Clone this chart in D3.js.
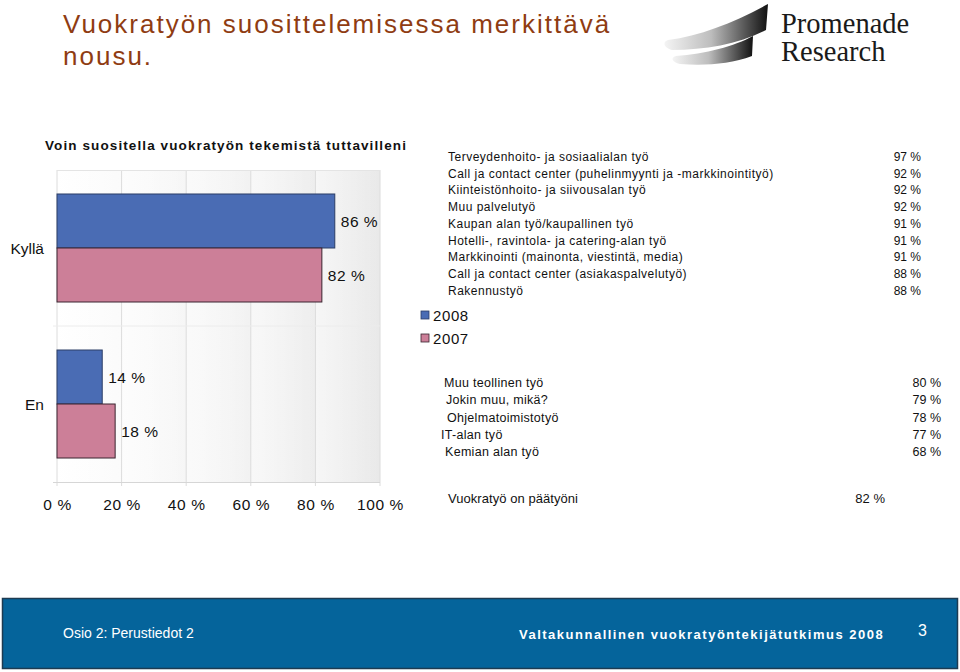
<!DOCTYPE html>
<html>
<head>
<meta charset="utf-8">
<script src="https://cdn.jsdelivr.net/npm/d3@7"></script>
<style>
	body { margin: 0; background: #fff; }
	svg { display: block; font-family: Arial, "Liberation Sans", sans-serif; }
</style>
</head>
<body>
<div id="chart"></div>
<script>
	// data
	var categories = ["Kyllä", "En"];
	var years = ["2008", "2007"];
	var values2008 = [86, 14];
	var values2007 = [82, 18];
	var xTicks = [0, 20, 40, 60, 80, 100];

	var topJobs = ["Terveydenhoito- ja sosiaalialan työ", "Call ja contact center (puhelinmyynti ja -markkinointityö)",
		"Kiinteistönhoito- ja siivousalan työ", "Muu palvelutyö", "Kaupan alan työ/kaupallinen työ",
		"Hotelli-, ravintola- ja catering-alan työ", "Markkinointi (mainonta, viestintä, media)",
		"Call ja contact center (asiakaspalvelutyö)", "Rakennustyö"];
	var topValues = [97, 92, 92, 92, 91, 91, 91, 88, 88];
	var lowJobs = ["Muu teollinen työ", "Jokin muu, mikä?", "Ohjelmatoimistotyö", "IT-alan työ", "Kemian alan työ"];
	var lowValues = [80, 79, 78, 77, 68];
	var mainJobLabel = "Vuokratyö on päätyöni";
	var mainJobValue = 82;

	var colors = { "2008": "#4a6cb4", "2007": "#cc7f98" };
	var strokes = { "2008": "#2c3e66", "2007": "#3a2530" };

	var svg = d3.select("#chart").append("svg")
		.attr("width", 960)
		.attr("height", 672);

	var defs = svg.append("defs");
	var bg = defs.append("linearGradient").attr("id", "plotbg");
	bg.append("stop").attr("offset", "0%").attr("stop-color", "#ffffff");
	bg.append("stop").attr("offset", "100%").attr("stop-color", "#e9e9e9");

	var colbg = defs.append("linearGradient").attr("id", "colbg");
	colbg.append("stop").attr("offset", "0%").attr("stop-color", "#ffffff").attr("stop-opacity", 0.5);
	colbg.append("stop").attr("offset", "100%").attr("stop-color", "#ffffff").attr("stop-opacity", 0);

	var swoosh = defs.append("linearGradient").attr("id", "swoosh");
	swoosh.append("stop").attr("offset", "0%").attr("stop-color", "#f4f4f4");
	swoosh.append("stop").attr("offset", "45%").attr("stop-color", "#bdbdbd");
	swoosh.append("stop").attr("offset", "100%").attr("stop-color", "#111111");

	// slide title
	var title = svg.append("text")
		.attr("x", 63)
		.attr("fill", "#8f3c12")
		.attr("font-size", "26px")
		.attr("letter-spacing", "2px");
	title.append("tspan").attr("x", 63).attr("y", 33).text("Vuokratyön suosittelemisessa merkittävä");
	title.append("tspan").attr("x", 63).attr("y", 65).text("nousu.");

	// logo
	var logo = svg.append("g");
	logo.append("path")
		.attr("d", "M668,40 C700,36 735,22 768,4 L766,30 C740,44 705,50 672,50 C664,48 662,42 668,40 Z")
		.attr("fill", "url(#swoosh)");
	logo.append("path")
		.attr("d", "M676,56 C705,54 735,46 753,36 L752,56 C730,64 705,66 680,64 C672,62 670,58 676,56 Z")
		.attr("fill", "url(#swoosh)");
	logo.append("text")
		.attr("x", 781).attr("y", 33)
		.attr("font-family", "'Liberation Serif', 'DejaVu Serif', serif")
		.attr("font-size", "28.5px")
		.attr("fill", "#1a1a1a")
		.text("Promenade");
	logo.append("text")
		.attr("x", 781).attr("y", 61)
		.attr("font-family", "'Liberation Serif', 'DejaVu Serif', serif")
		.attr("font-size", "28.5px")
		.attr("fill", "#1a1a1a")
		.text("Research");

	// chart
	var plot = { left: 57, right: 380, top: 170, bottom: 482 };

	var x = d3.scaleLinear().domain([0, 100]).range([plot.left, plot.right]);
	var y = d3.scaleBand().domain(categories).range([plot.top, plot.bottom])
		.paddingInner(0.3077).paddingOuter(0.1538);
	var ySub = d3.scaleBand().domain(years).range([0, y.bandwidth()]);

	svg.append("text")
		.attr("x", 226).attr("y", 150)
		.attr("text-anchor", "middle")
		.attr("font-size", "13.5px")
		.attr("font-weight", "bold")
		.attr("letter-spacing", "1.1px")
		.attr("fill", "#111")
		.text("Voin suositella vuokratyön tekemistä tuttavilleni");

	svg.append("rect")
		.attr("x", plot.left).attr("y", plot.top)
		.attr("width", plot.right - plot.left).attr("height", plot.bottom - plot.top)
		.attr("fill", "url(#plotbg)");

	// column shading between gridlines
	svg.selectAll(".col")
		.data(xTicks.slice(0, -1))
		.enter().append("rect")
		.attr("class", "col")
		.attr("x", function(d){ return x(d); })
		.attr("y", plot.top)
		.attr("width", x(20) - x(0))
		.attr("height", plot.bottom - plot.top)
		.attr("fill", "url(#colbg)");

	svg.selectAll(".grid")
		.data(xTicks)
		.enter().append("line")
		.attr("class", "grid")
		.attr("x1", function(d){ return x(d); })
		.attr("x2", function(d){ return x(d); })
		.attr("y1", plot.top)
		.attr("y2", plot.bottom + 4)
		.attr("stroke", "#dcdcdc")
		.attr("stroke-width", 1);

	svg.append("line")
		.attr("x1", plot.left).attr("x2", plot.right)
		.attr("y1", plot.top + 0.5).attr("y2", plot.top + 0.5)
		.attr("stroke", "#e4e4e4");
	svg.append("line")
		.attr("x1", plot.left - 4).attr("x2", plot.right)
		.attr("y1", plot.bottom + 0.5).attr("y2", plot.bottom + 0.5)
		.attr("stroke", "#d6d6d6");
	svg.append("line")
		.attr("x1", plot.left - 4).attr("x2", plot.right)
		.attr("y1", y.step() + plot.top).attr("y2", y.step() + plot.top)
		.attr("stroke", "#ececec");

	var rows = categories.map(function(c, i){
		return { cat: c, vals: [ { year: "2008", v: values2008[i] }, { year: "2007", v: values2007[i] } ] };
	});

	var groups = svg.selectAll(".grp")
		.data(rows)
		.enter().append("g")
		.attr("class", "grp")
		.attr("transform", function(d){ return "translate(0," + y(d.cat) + ")"; });

	groups.selectAll("rect")
		.data(function(d){ return d.vals; })
		.enter().append("rect")
		.attr("x", x(0))
		.attr("y", function(d){ return ySub(d.year); })
		.attr("width", function(d){ return x(d.v) - x(0); })
		.attr("height", ySub.bandwidth())
		.attr("fill", function(d){ return colors[d.year]; })
		.attr("stroke", function(d){ return strokes[d.year]; })
		.attr("stroke-width", 1);

	groups.selectAll(".val")
		.data(function(d){ return d.vals; })
		.enter().append("text")
		.attr("class", "val")
		.attr("x", function(d){ return x(d.v) + 6; })
		.attr("y", function(d){ return ySub(d.year) + ySub.bandwidth() / 2 + 6; })
		.attr("font-size", "15.5px")
		.attr("letter-spacing", "0.5px")
		.attr("fill", "#111")
		.text(function(d){ return d.v + " %"; });

	svg.selectAll(".cat")
		.data(categories)
		.enter().append("text")
		.attr("class", "cat")
		.attr("x", 44)
		.attr("y", function(d){ return y(d) + y.bandwidth() / 2 + 6; })
		.attr("text-anchor", "end")
		.attr("font-size", "15.5px")
		.attr("fill", "#111")
		.text(function(d){ return d; });

	var xAxis = svg.append("g")
		.attr("transform", "translate(0," + (plot.bottom + 14) + ")")
		.call(d3.axisBottom(x).tickValues(xTicks).tickSize(0).tickFormat(function(d){ return d + " %"; }));
	xAxis.select(".domain").remove();
	xAxis.selectAll("text")
		.attr("font-size", "15.5px")
		.attr("letter-spacing", "0.6px")
		.attr("font-family", "Arial, 'Liberation Sans', sans-serif")
		.attr("fill", "#111");

	// legend
	var legend = svg.selectAll(".leg")
		.data(years)
		.enter().append("g")
		.attr("class", "leg")
		.attr("transform", function(d, i){ return "translate(421," + (311 + i * 23) + ")"; });
	legend.append("rect")
		.attr("width", 8).attr("height", 8)
		.attr("fill", function(d){ return colors[d]; })
		.attr("stroke", function(d){ return strokes[d]; })
		.attr("stroke-width", 0.8);
	legend.append("text")
		.attr("x", 12).attr("y", 10)
		.attr("font-size", "15px")
		.attr("letter-spacing", "0.6px")
		.attr("fill", "#111")
		.text(function(d){ return d; });

	// top list
	svg.selectAll(".top")
		.data(topJobs)
		.enter().append("text")
		.attr("class", "top")
		.attr("x", 448)
		.attr("y", function(d, i){ return 161 + i * 16.7; })
		.attr("font-size", "12px")
		.attr("letter-spacing", "0.5px")
		.attr("fill", "#111")
		.text(function(d){ return d; });
	svg.selectAll(".topv")
		.data(topValues)
		.enter().append("text")
		.attr("class", "topv")
		.attr("x", 921)
		.attr("y", function(d, i){ return 161 + i * 16.7; })
		.attr("text-anchor", "end")
		.attr("font-size", "12px")
		.attr("fill", "#111")
		.text(function(d){ return d + " %"; });

	// lower list
	var lowX = [444, 446, 447, 441, 445];
	svg.selectAll(".low")
		.data(lowJobs)
		.enter().append("text")
		.attr("class", "low")
		.attr("x", function(d, i){ return lowX[i]; })
		.attr("y", function(d, i){ return 387 + i * 17.3; })
		.attr("font-size", "12.5px")
		.attr("letter-spacing", "0.3px")
		.attr("fill", "#111")
		.text(function(d){ return d; });
	svg.selectAll(".lowv")
		.data(lowValues)
		.enter().append("text")
		.attr("class", "lowv")
		.attr("x", 941)
		.attr("y", function(d, i){ return 387 + i * 17.3; })
		.attr("text-anchor", "end")
		.attr("font-size", "12.5px")
		.attr("fill", "#111")
		.text(function(d){ return d + " %"; });

	svg.append("text")
		.attr("x", 448).attr("y", 503)
		.attr("font-size", "13px")
		.attr("textLength", 130)
		.attr("fill", "#111")
		.text(mainJobLabel);
	svg.append("text")
		.attr("x", 885).attr("y", 503)
		.attr("text-anchor", "end")
		.attr("font-size", "13px")
		.attr("fill", "#111")
		.text(mainJobValue + " %");

	// footer band
	svg.append("rect")
		.attr("x", 2.5).attr("y", 598.5)
		.attr("width", 955).attr("height", 70)
		.attr("fill", "#05649b")
		.attr("stroke", "#1d3b52")
		.attr("stroke-width", 1.5);
	svg.append("text")
		.attr("x", 63).attr("y", 638)
		.attr("font-size", "14px")
		.attr("fill", "#fff")
		.text("Osio 2: Perustiedot 2");
	svg.append("text")
		.attr("x", 519).attr("y", 639)
		.attr("font-size", "13px")
		.attr("font-weight", "bold")
		.attr("letter-spacing", "1.5px")
		.attr("fill", "#fff")
		.text("Valtakunnallinen vuokratyöntekijätutkimus 2008");
	svg.append("text")
		.attr("x", 918).attr("y", 636)
		.attr("font-size", "16px")
		.attr("fill", "#fff")
		.text("3");
</script>
</body>
</html>
